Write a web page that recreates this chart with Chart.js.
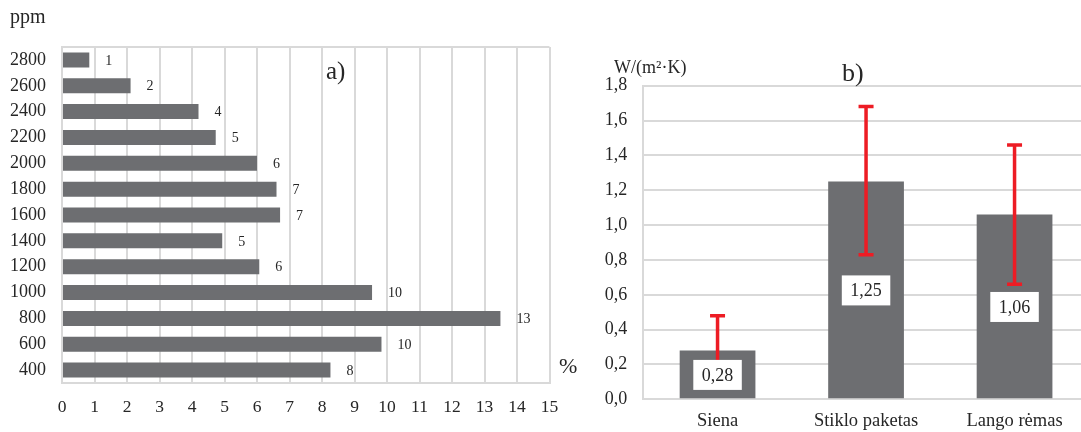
<!DOCTYPE html>
<html>
<head>
<meta charset="utf-8">
<script src="https://cdn.jsdelivr.net/npm/chart.js@4"></script>
<style>
html,body{margin:0;padding:0;background:#fff;overflow:hidden;width:1081px;height:432px;}
canvas{position:absolute;top:0;}
.t{position:absolute;font-family:"Liberation Serif","Times New Roman",serif;color:#262626;white-space:nowrap;line-height:1;}
</style>
</head>
<body>
<canvas id="a" width="580" height="432" style="left:0"></canvas>
<canvas id="b" width="530" height="432" style="left:580px"></canvas>
<div class="t" style="left:10px;top:6px;font-size:20px;">ppm</div>
<div class="t" style="left:326px;top:58px;font-size:25px;">a)</div>
<div class="t" style="left:559px;top:355px;font-size:22px;">%</div>
<div class="t" style="left:614px;top:58px;font-size:18px;">W/(m²·K)</div>
<div class="t" style="left:842px;top:60px;font-size:26px;">b)</div>
<script>
// ---- Chart a) data ----
const ppmLevels = ['2800','2600','2400','2200','2000','1800','1600','1400','1200','1000','800','600','400'];
const pctValues = [0.84, 2.11, 4.2, 4.73, 6.0, 6.6, 6.71, 4.93, 6.07, 9.54, 13.49, 9.83, 8.26];
const pctLabels = ['1','2','4','5','6','7','7','5','6','10','13','10','8'];
const pctTicks = [0,1,2,3,4,5,6,7,8,9,10,11,12,13,14,15];

// ---- Chart b) data ----
const elements = ['Siena','Stiklo paketas','Lango rėmas'];
const uValues = [0.28, 1.25, 1.06];
const uErrLow = [0.08, 0.83, 0.66];
const uErrHigh = [0.48, 1.68, 1.46];
const uTicks = [0,0.2,0.4,0.6,0.8,1.0,1.2,1.4,1.6,1.8];

Chart.defaults.devicePixelRatio = 1;
Chart.defaults.font.family = '"Liberation Serif","Times New Roman",serif';
Chart.defaults.color = '#262626';
const BAR = '#6d6e71';
const GRID = '#d9d9d9';

const labelsA = {
  id:'labelsA',
  beforeDatasetsDraw(chart){
    const {ctx, chartArea:a} = chart;
    ctx.save();
    ctx.strokeStyle = GRID; ctx.lineWidth = 2;
    ctx.beginPath(); ctx.moveTo(a.left, a.top); ctx.lineTo(a.right, a.top); ctx.stroke();
    ctx.restore();
  },
  afterDatasetsDraw(chart){
    const {ctx} = chart;
    const meta = chart.getDatasetMeta(0);
    ctx.save();
    ctx.font = '14px "Liberation Serif","Times New Roman",serif';
    ctx.fillStyle = '#262626';
    ctx.textAlign = 'left'; ctx.textBaseline = 'middle';
    meta.data.forEach((el,i)=>{ ctx.fillText(pctLabels[i], el.x + 16, el.y + 1); });
    ctx.restore();
  }
};

new Chart(document.getElementById('a'), {
  type:'bar',
  data:{labels:ppmLevels, datasets:[{data:pctValues, backgroundColor:BAR, barPercentage:0.58, categoryPercentage:1}]},
  options:{
    indexAxis:'y', responsive:false, animation:false,
    layout:{padding:{top:47,right:30.5,left:0,bottom:0}},
    plugins:{legend:{display:false}, tooltip:{enabled:false}},
    scales:{
      x:{min:0,max:15,
        afterBuildTicks(s){ s.ticks = pctTicks.map(v=>({value:v})); },
        afterFit(s){ s.height = 49; },
        grid:{color:GRID, lineWidth:2, drawTicks:false},
        border:{display:true, color:GRID, width:2},
        ticks:{padding:14, font:{size:17.5}, autoSkip:false}},
      y:{afterFit(s){ s.width = 62; },
        grid:{display:false, drawTicks:false},
        border:{display:true, color:GRID, width:2},
        ticks:{padding:16, font:{size:18}}}
    }
  },
  plugins:[labelsA]
});

const errB = {
  id:'errB',
  afterDatasetsDraw(chart){
    const {ctx} = chart;
    const ys = chart.scales.y;
    const meta = chart.getDatasetMeta(0);
    ctx.save();
    ctx.strokeStyle = '#ed1c24'; ctx.lineWidth = 3.5; ctx.lineCap = 'butt';
    meta.data.forEach((el,i)=>{
      const yl = ys.getPixelForValue(uErrLow[i]), yh = ys.getPixelForValue(uErrHigh[i]);
      ctx.beginPath();
      ctx.moveTo(el.x, yl); ctx.lineTo(el.x, yh);
      ctx.moveTo(el.x-7.5, yl); ctx.lineTo(el.x+7.5, yl);
      ctx.moveTo(el.x-7.5, yh); ctx.lineTo(el.x+7.5, yh);
      ctx.stroke();
    });
    ctx.font = '18px "Liberation Serif","Times New Roman",serif';
    ctx.textAlign = 'center'; ctx.textBaseline = 'middle';
    meta.data.forEach((el,i)=>{
      const y = ys.getPixelForValue(uValues[i]/2);
      const txt = uValues[i].toFixed(2).replace('.',',');
      const w = ctx.measureText(txt).width + 17, h = 30;
      ctx.fillStyle = '#fff';
      ctx.fillRect(el.x - w/2, y - h/2, w, h);
      ctx.fillStyle = '#262626';
      ctx.fillText(txt, el.x, y + 1);
    });
    ctx.restore();
  }
};

new Chart(document.getElementById('b'), {
  type:'bar',
  data:{labels:elements, datasets:[{data:uValues, backgroundColor:BAR, barPercentage:0.51, categoryPercentage:1}]},
  options:{
    responsive:false, animation:false,
    layout:{padding:{top:85.7,right:21.2,left:0,bottom:0}},
    plugins:{legend:{display:false}, tooltip:{enabled:false}},
    scales:{
      y:{min:0,max:1.8,
        afterBuildTicks(s){ s.ticks = uTicks.map(v=>({value:v})); },
        afterFit(s){ s.width = 63.3; },
        grid:{color:GRID, lineWidth:2, drawTicks:false},
        border:{display:true, color:GRID, width:2},
        ticks:{padding:16, font:{size:18}, callback:v=>Number(v).toFixed(1).replace('.',',')}},
      x:{afterFit(s){ s.height = 32.7; },
        grid:{display:false, drawTicks:false},
        border:{display:true, color:GRID, width:2},
        ticks:{padding:11, font:{size:18.5}}}
    }
  },
  plugins:[errB]
});
</script>
</body>
</html>
